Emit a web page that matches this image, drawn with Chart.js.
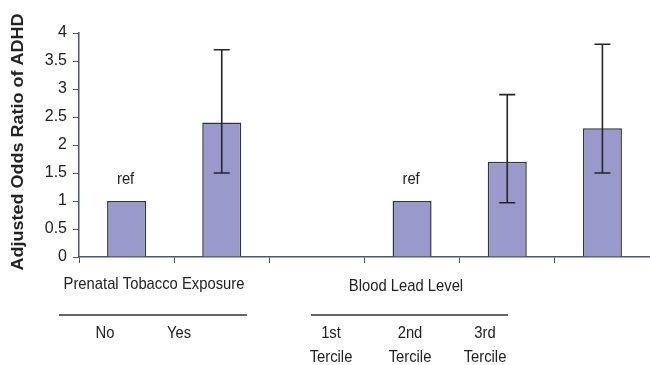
<!DOCTYPE html>
<html>
<head>
<meta charset="utf-8">
<script src="https://cdn.jsdelivr.net/npm/chart.js@4.4.1/dist/chart.umd.min.js"></script>
<style>
  html, body { margin: 0; padding: 0; background: #fff; }
  #wrap { width: 650px; height: 365px; position: relative; }
</style>
</head>
<body>
<div id="wrap"><canvas id="c" width="650" height="365"></canvas></div>
<script>
// Categories along the x axis (third slot is an empty spacer between groups)
const categories = ['No', 'Yes', '', '1st Tercile', '2nd Tercile', '3rd Tercile'];
// Adjusted odds ratios
const oddsRatios = [1, 2.4, null, 1, 1.7, 2.3];
// 95% confidence limits
const ciLow = [null, 1.5, null, null, 0.97, 1.5];
const ciHigh = [null, 3.7, null, null, 2.9, 3.8];
// Reference-group markers
const refMarks = ['ref', '', '', 'ref', '', ''];
// Y axis tick values
const yTicks = [0, 0.5, 1, 1.5, 2, 2.5, 3, 3.5, 4];
const yTitle = 'Adjusted Odds Ratio of ADHD';

// Group captions and sub-labels drawn under the axis
const groupCaptions = [
  { text: 'Prenatal Tobacco Exposure', x: 154, y: 284, lineFrom: 59, lineTo: 247 },
  { text: 'Blood Lead Level', x: 406, y: 286, lineFrom: 311, lineTo: 508 }
];
const subLabels = [
  { lines: ['No'], x: 105 },
  { lines: ['Yes'], x: 179 },
  { lines: ['1st', 'Tercile'], x: 331 },
  { lines: ['2nd', 'Tercile'], x: 410 },
  { lines: ['3rd', 'Tercile'], x: 485 }
];

const FONT = '"Liberation Sans", Arial, sans-serif';
const TEXT = '#222222';
const AXIS = '#4d5866';
const SQUEEZE = 0.87; // narrow lettering

function narrowText(ctx, text, x, y) {
  ctx.save();
  ctx.translate(x, y);
  ctx.scale(SQUEEZE, 1);
  ctx.fillText(text, 0, 0);
  ctx.restore();
}

const errorBars = {
  id: 'errorBars',
  afterDatasetsDraw(chart) {
    const { ctx, scales: { y } } = chart;
    const meta = chart.getDatasetMeta(0);
    ctx.save();
    ctx.strokeStyle = '#262626';
    ctx.lineWidth = 1.6;
    meta.data.forEach((bar, i) => {
      if (ciLow[i] == null || ciHigh[i] == null) return;
      const x = bar.x;
      const yl = y.getPixelForValue(ciLow[i]);
      const yh = y.getPixelForValue(ciHigh[i]);
      const cap = 8;
      ctx.beginPath();
      ctx.moveTo(x, yl); ctx.lineTo(x, yh);
      ctx.moveTo(x - cap, yh); ctx.lineTo(x + cap, yh);
      ctx.moveTo(x - cap, yl); ctx.lineTo(x + cap, yl);
      ctx.stroke();
    });
    // "ref" markers above the reference bars
    ctx.fillStyle = TEXT;
    ctx.font = '17px ' + FONT;
    ctx.textAlign = 'center';
    ctx.textBaseline = 'middle';
    meta.data.forEach((bar, i) => {
      if (!refMarks[i]) return;
      narrowText(ctx, refMarks[i], bar.x - 1, y.getPixelForValue(oddsRatios[i]) - 22);
    });
    ctx.restore();
  }
};

const labelsPlugin = {
  id: 'groupLabels',
  afterDraw(chart) {
    const { ctx, chartArea } = chart;
    ctx.save();
    ctx.fillStyle = TEXT;
    ctx.strokeStyle = '#333';
    ctx.lineWidth = 1.5;
    ctx.textAlign = 'center';
    ctx.textBaseline = 'middle';
    ctx.font = '17px ' + FONT;
    groupCaptions.forEach(g => {
      narrowText(ctx, g.text, g.x, g.y);
      ctx.beginPath();
      ctx.moveTo(g.lineFrom, 315);
      ctx.lineTo(g.lineTo, 315);
      ctx.stroke();
    });
    subLabels.forEach(s => {
      s.lines.forEach((t, k) => narrowText(ctx, t, s.x, 333 + k * 24));
    });
    // rotated y-axis title
    ctx.save();
    ctx.translate(19, (chartArea.top + chartArea.bottom) / 2 - 3);
    ctx.rotate(-Math.PI / 2);
    ctx.scale(1, SQUEEZE);
    ctx.font = 'bold 18px ' + FONT;
    ctx.fillText(yTitle, 0, 0);
    ctx.restore();
    ctx.restore();
  }
};

new Chart(document.getElementById('c'), {
  type: 'bar',
  data: {
    labels: categories,
    datasets: [{
      data: oddsRatios,
      backgroundColor: '#9999cc',
      borderColor: '#2e3640',
      borderWidth: 1.5,
      barPercentage: 0.41,
      categoryPercentage: 1.0
    }]
  },
  options: {
    responsive: false,
    animation: false,
    devicePixelRatio: 1,
    layout: { padding: { top: 33, right: 0, left: 0, bottom: 0 } },
    plugins: { legend: { display: false }, tooltip: { enabled: false } },
    scales: {
      x: {
        offset: true,
        grid: { display: true, drawOnChartArea: false, drawTicks: true, tickLength: 6, color: AXIS, offset: true },
        border: { display: true, color: AXIS, width: 1.5 },
        ticks: { display: false },
        afterFit(scale) { scale.height = 108; }
      },
      y: {
        min: 0,
        max: 4,
        afterBuildTicks(scale) { scale.ticks = yTicks.map(v => ({ value: v })); },
        grid: { display: true, drawOnChartArea: false, drawTicks: true, tickLength: 6, color: AXIS },
        border: { display: true, color: AXIS, width: 1.5 },
        ticks: {
          color: TEXT,
          font: { family: FONT, size: 16 },
          padding: 6,
          callback: v => String(v)
        },
        afterFit(scale) { scale.width = 79; }
      }
    }
  },
  plugins: [errorBars, labelsPlugin]
});
</script>
</body>
</html>
